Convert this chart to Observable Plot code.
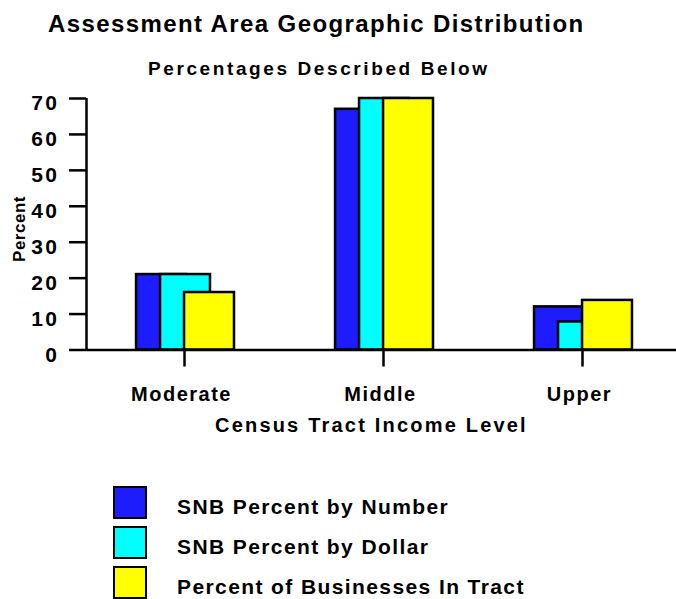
<!DOCTYPE html>
<html>
<head>
<meta charset="utf-8">
<script src="https://cdn.jsdelivr.net/npm/d3@7"></script>
<script src="https://cdn.jsdelivr.net/npm/@observablehq/plot@0.6"></script>
<style>
  html, body { margin: 0; padding: 0; background: #fff; }
  #wrap { position: relative; width: 676px; height: 599px; overflow: hidden; font-family: "Liberation Sans", Arial, sans-serif; font-weight: bold; color: #000; }
  #wrap svg text { letter-spacing: 1.5px; }
  #wrap svg g[aria-label="y-axis tick label"] text { letter-spacing: 2.5px; }
  .t { position: absolute; line-height: 1; white-space: nowrap; }
  .sw { position: absolute; width: 30px; height: 29px; border: 2px solid #000; }
</style>
</head>
<body>
<div id="wrap"></div>
<script>
const categories = ["Moderate", "Middle", "Upper"];
const snbNumber = [21, 67, 12];
const snbDollar = [21, 70, 7.8];
const businesses = [16, 70, 13.8];
const seriesNames = ["SNB Percent by Number", "SNB Percent by Dollar", "Percent of Businesses In Tract"];
const seriesColors = ["#1c1cff", "#00ffff", "#ffff00"];
const yTicks = [0, 10, 20, 30, 40, 50, 60, 70];
const titleText = "Assessment Area Geographic Distribution";
const subtitleText = "Percentages Described Below";
const xLabel = "Census Tract Income Level";
const yLabel = "Percent";

const seriesValues = [snbNumber, snbDollar, businesses];
const barW = 0.251, step = 0.1206, firstOff = -0.241;
const xDomain = [-0.4925, 2.4724];
const catIdx = categories.map((c, i) => i);

const marks = [];
seriesValues.forEach((vals, k) => {
  const rows = categories.map((c, i) => ({i, v: vals[i]}));
  marks.push(Plot.rect(rows, {
    x1: d => d.i + firstOff + k * step,
    x2: d => d.i + firstOff + k * step + barW,
    y1: 0, y2: "v",
    fill: seriesColors[k], stroke: "#000", strokeWidth: 2.5
  }));
});
marks.push(Plot.ruleY([0], {stroke: "#000", strokeWidth: 2.5}));
marks.push(Plot.ruleX([xDomain[0]], {stroke: "#000", strokeWidth: 2.5}));
// y tick lines
marks.push(Plot.axisY({ticks: yTicks, tickSize: 17, fill: "none", strokeWidth: 2.5, label: null}));
// y tick labels
marks.push(Plot.axisY({ticks: yTicks, tickSize: 0, tickPadding: 27, fontSize: 21, fontWeight: "bold", dy: 5, label: null}));
// x tick lines
marks.push(Plot.axisX({ticks: catIdx, tickSize: 17, fill: "none", strokeWidth: 2.5, label: null}));
// x tick labels
marks.push(Plot.axisX({ticks: catIdx, tickFormat: i => categories[i], tickSize: 0, tickPadding: 37, fontSize: 20, fontWeight: "bold", label: null, dx: -3}));

const chart = Plot.plot({
  width: 676, height: 440,
  marginLeft: 86, marginRight: 0, marginTop: 98, marginBottom: 90.5,
  style: {fontFamily: "Liberation Sans, Arial, sans-serif", fontWeight: "bold", color: "#000", background: "transparent", overflow: "visible"},
  x: {type: "linear", domain: xDomain},
  y: {domain: [0, 70]},
  marks
});
chart.style.position = "absolute";
chart.style.left = "0px";
chart.style.top = "0px";
const wrap = document.getElementById("wrap");
wrap.appendChild(chart);

function addText(txt, left, baseline, size, spacing) {
  const d = document.createElement("div");
  d.className = "t";
  d.textContent = txt;
  d.style.fontSize = size + "px";
  d.style.letterSpacing = spacing + "px";
  d.style.left = left + "px";
  d.style.top = (baseline - 0.8465 * size) + "px";
  wrap.appendChild(d);
  return d;
}
addText(titleText, 48, 32, 24, 1.4);
addText(subtitleText, 148, 75, 19, 2.6);
addText(xLabel, 215, 432, 20, 2.2);

const yl = document.createElement("div");
yl.className = "t";
yl.textContent = yLabel;
yl.style.fontSize = "17px";
yl.style.letterSpacing = "0.5px";
yl.style.left = "19px";
yl.style.top = "229px";
yl.style.transform = "translate(-50%, -50%) rotate(-90deg)";
wrap.appendChild(yl);

seriesNames.forEach((name, k) => {
  const s = document.createElement("div");
  s.className = "sw";
  s.style.left = "113px";
  s.style.top = (486 + 40 * k) + "px";
  s.style.background = seriesColors[k];
  wrap.appendChild(s);
  addText(name, 177, 514 + 40 * k, 21, 1.4);
});
</script>
</body>
</html>
